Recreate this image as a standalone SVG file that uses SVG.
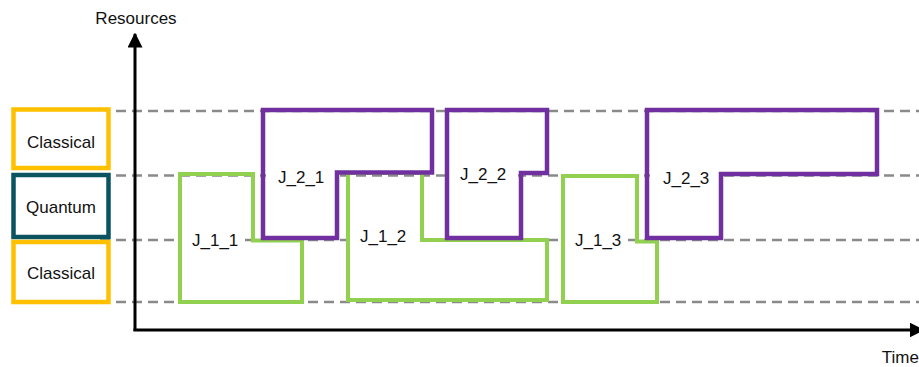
<svg xmlns="http://www.w3.org/2000/svg" width="919" height="367" viewBox="0 0 919 367">
<defs>
<style>
text{font-family:"Liberation Sans",Arial,sans-serif;font-size:17px;fill:#111}
.grid{stroke:#8a8a8a;stroke-width:2.5;stroke-dasharray:10 6;fill:none}
.cls{fill:#fff;stroke:#FFC000;stroke-width:4.5}
.qnt{fill:#fff;stroke:#0B5360;stroke-width:4.5}
.j1{fill:none;stroke:#92D050;stroke-width:4}
.j2{fill:none;stroke:#7030A0;stroke-width:4.5}
.bg{fill:#fff}
.axis{stroke:#000;stroke-width:3;fill:none}
.mid{text-anchor:middle}
</style>
<marker id="arr" viewBox="0 0 10 10" refX="9" refY="5" markerWidth="5" markerHeight="5" markerUnits="strokeWidth" orient="auto">
<path d="M0,0 L10,5 L0,10 z" fill="#000"/>
</marker>
</defs>
<rect width="919" height="367" fill="#fff"/>
<g id="gridlines">
<line class="grid" x1="100" y1="111" x2="919" y2="111"/>
<line class="grid" x1="100" y1="175.5" x2="919" y2="175.5"/>
<line class="grid" x1="100" y1="240" x2="919" y2="240"/>
<line class="grid" x1="100" y1="302" x2="919" y2="302"/>
</g>
<g id="connectors">
<line class="axis" x1="135" y1="331" x2="135" y2="34" marker-end="url(#arr)"/>
<line class="axis" x1="133.5" y1="330" x2="923" y2="330" marker-end="url(#arr)"/>
</g>
<g id="axis-labels">
<text class="mid" x="136" y="24">Resources</text>
<text x="919" y="363" text-anchor="end">Time</text>
</g>
<g id="classical-top">
<rect class="cls" x="13.5" y="109.5" width="95" height="58.5"/>
<text class="mid" x="61" y="148">Classical</text>
</g>
<g id="quantum">
<rect class="qnt" x="13.5" y="175" width="95" height="62"/>
<text class="mid" x="61" y="213">Quantum</text>
</g>
<g id="classical-bottom">
<rect class="cls" x="13.5" y="242" width="95" height="60"/>
<text class="mid" x="61" y="279">Classical</text>
</g>
<g id="J_1_1">
<rect class="bg" x="182" y="226" width="63" height="28"/>
<path class="j1" d="M180,174 H253 V240.5 H302 V302 H180 Z"/>
<text x="192" y="246">J_1_1</text>
</g>
<g id="J_1_2">
<rect class="bg" x="350" y="226" width="70" height="26"/>
<path class="j1" d="M348,173 H422 V240 H547 V300 H348 Z"/>
<text x="360" y="242">J_1_2</text>
</g>
<g id="J_1_3">
<rect class="bg" x="565" y="226" width="63" height="28"/>
<path class="j1" d="M563,176 H637 V241.5 H657 V302 H563 Z"/>
<text x="575" y="246">J_1_3</text>
</g>
<g id="J_2_1">
<rect class="bg" x="266" y="160" width="68" height="26"/>
<path class="j2" d="M263,110 H432 V172.5 H337 V238 H263 Z"/>
<text x="278" y="183">J_2_1</text>
</g>
<g id="J_2_2">
<rect class="bg" x="450" y="160" width="68" height="26"/>
<path class="j2" d="M447,110 H547 V173 H521 V238 H447 Z"/>
<text x="460" y="180">J_2_2</text>
</g>
<g id="J_2_3">
<rect class="bg" x="650" y="162" width="68" height="26"/>
<path class="j2" d="M647,110 H877 V174 H721 V238 H647 Z"/>
<text x="663" y="184">J_2_3</text>
</g>
</svg>
